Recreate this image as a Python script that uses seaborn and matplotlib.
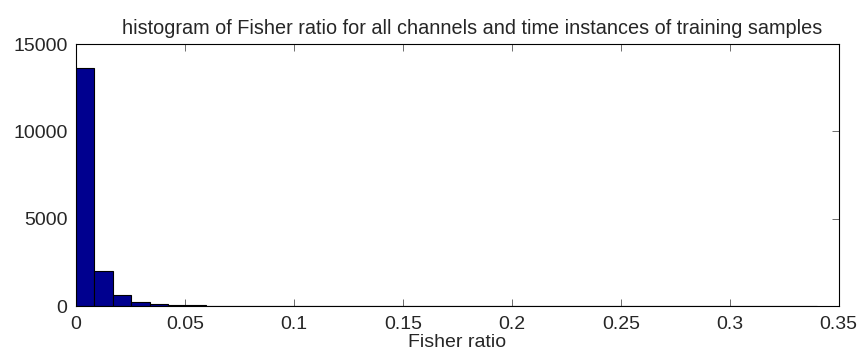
import numpy as np
import pandas as pd
import seaborn as sns
import matplotlib.pyplot as plt

# histogram counts (40 bins, width ~0.0085)
bin_width = 0.0085
counts = [13610, 2020, 640, 240, 130, 60, 35, 22, 14, 10,
          7, 5, 4, 3, 3, 2, 2, 1, 1, 1,
          1, 1, 0, 1, 0, 0, 1, 0, 1, 0,
          0, 0, 1, 0, 0, 0, 0, 0, 0, 1]
x_ticks = [0, 0.05, 0.1, 0.15, 0.2, 0.25, 0.3, 0.35]
x_tick_labels = ['0', '0.05', '0.1', '0.15', '0.2', '0.25', '0.3', '0.35']
y_ticks = [0, 5000, 10000, 15000]

edges = np.arange(len(counts) + 1) * bin_width
df = pd.DataFrame({'ratio': (edges[:-1] + edges[1:]) / 2, 'n': counts})

sns.set_style('white')
plt.rcParams['font.family'] = ['Liberation Sans', 'DejaVu Sans']

fig = plt.figure(figsize=(8.62, 3.58), dpi=100)
ax = fig.add_axes([0.088, 0.145, 0.885, 0.732])

sns.histplot(data=df, x='ratio', weights='n', binwidth=bin_width,
             binrange=(0, edges[-1]), ax=ax,
             color='#00008F', edgecolor='black', linewidth=0.8, alpha=1)

ax.set_xlim(0, 0.35)
ax.set_ylim(0, 15000)
ax.set_xticks(x_ticks)
ax.set_xticklabels(x_tick_labels)
ax.set_yticks(y_ticks)
ax.tick_params(direction='in', length=5, width=0.6, labelsize=14, pad=6,
               top=True, right=True, bottom=True, left=True, color='#555555')
ax.tick_params(axis='x', pad=7)
for s in ax.spines.values():
    s.set_color('black')
    s.set_linewidth(0.8)
ax.set_xlabel('Fisher ratio', fontsize=14, labelpad=1)
ax.set_ylabel('')
ax.set_title('histogram of Fisher ratio for all channels and time instances of training samples',
             fontsize=14.3, pad=7, x=0.52)

fig.savefig('out.png', dpi=100)
